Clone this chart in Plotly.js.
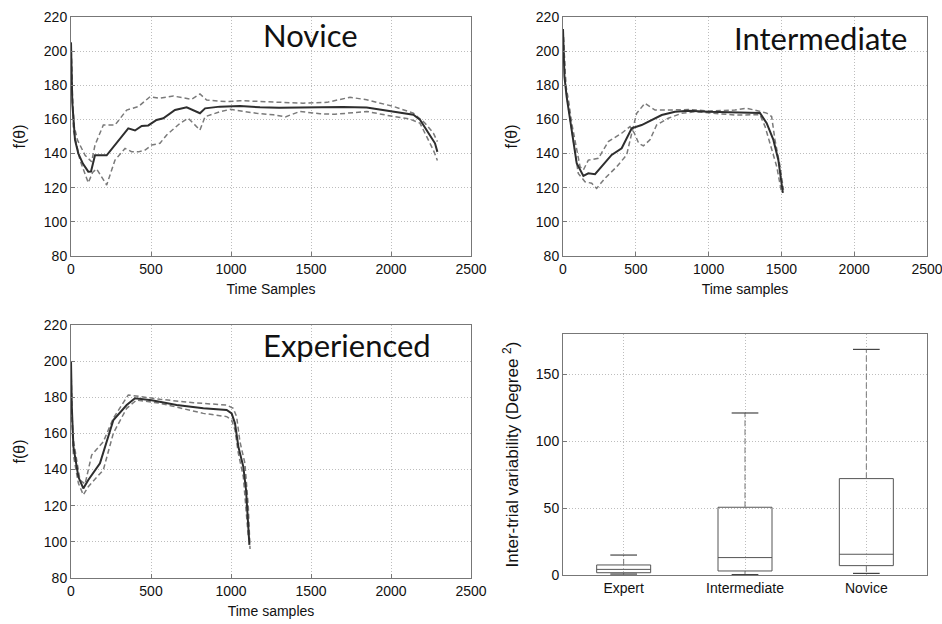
<!DOCTYPE html>
<html>
<head>
<meta charset="utf-8">
<script src="https://cdn.plot.ly/plotly-3.0.1.min.js"></script>
<style>html,body{margin:0;padding:0;background:#fff;}#chart{width:942px;height:624px;}</style>
</head>
<body>
<div id="chart"></div>
<script>
// ---------- Novice ----------
const noviceMeanX  = [0, 8, 25, 46, 75, 108, 125, 150, 223, 275, 358, 400, 442, 483, 535, 577, 650, 723, 765, 806, 838, 931, 1056, 1181, 1300, 1400, 1500, 1600, 1700, 1848, 2015, 2140, 2181, 2233, 2275, 2290];
const noviceMeanY  = [205, 170, 148, 140, 134, 129.4, 129.5, 139, 139, 145, 154.8, 153.5, 156.2, 156.5, 159.7, 160.7, 165.5, 167.1, 165.5, 163.6, 166.5, 167.5, 167.9, 167.1, 166.8, 167, 167, 167.2, 167.3, 167, 164.7, 162.7, 159.8, 152, 146, 141];
const noviceUpX    = [0, 8, 20, 40, 88, 129, 150, 202, 275, 348, 421, 494, 556, 640, 754, 806, 848, 973, 1056, 1200, 1350, 1450, 1600, 1744, 1848, 2015, 2140, 2213, 2265, 2290];
const noviceUpY    = [205, 175, 156, 148, 139, 135.2, 145, 156.7, 156.7, 165.5, 167.5, 173.3, 172.4, 173.7, 171.8, 174.9, 171.4, 170.4, 171, 170.5, 170, 169.5, 170, 173, 171.5, 167.6, 163.7, 157.8, 152, 147];
const noviceLoX    = [0, 8, 15, 56, 108, 135, 160, 223, 275, 338, 379, 421, 463, 504, 556, 598, 681, 733, 785, 806, 838, 931, 994, 1098, 1160, 1265, 1340, 1431, 1556, 1650, 1744, 1848, 2015, 2119, 2181, 2233, 2265, 2290];
const noviceLoY    = [205, 168, 153.8, 136.2, 122.9, 129, 131, 121.6, 136.2, 143, 141.1, 141, 142.1, 145, 146, 150.9, 157.7, 160.7, 155.7, 153.8, 161.6, 164.5, 165.9, 164.5, 163.6, 162.7, 161.5, 164.7, 163.3, 163, 163.7, 164.7, 161.7, 160.2, 157.8, 148, 142, 136];

// ---------- Intermediate ----------
const interMeanX = [0, 10, 25, 60, 94, 140, 174, 220, 266, 334, 403, 472, 540, 609, 678, 769, 861, 998, 1181, 1300, 1353, 1399, 1445, 1479, 1502, 1510];
const interMeanY = [213, 185, 173.3, 153.8, 134.3, 126.9, 128.4, 127.9, 132.3, 139.2, 143.1, 154.8, 156.7, 159.7, 162.6, 164.5, 165.1, 164.5, 164, 164, 163.7, 157.8, 148, 136.3, 120.7, 117];
const interAX    = [0, 20, 40, 60, 117, 140, 174, 243, 311, 403, 460, 490, 520, 552, 597, 643, 723, 815, 907, 1000, 1181, 1300, 1353, 1388, 1422, 1468, 1502];
const interAY    = [213, 180, 170, 157.7, 132.3, 130.4, 136.2, 137.2, 147, 151.9, 155.8, 152, 146, 144.5, 148, 156.7, 160.7, 163.6, 164.5, 164, 162.6, 162.7, 162.7, 155.8, 146, 132.4, 116.8];
const interBX    = [0, 20, 36, 71, 105, 151, 197, 231, 288, 369, 437, 472, 506, 563, 632, 723, 861, 1000, 1181, 1261, 1399, 1433, 1456, 1491, 1514];
const interBY    = [213, 178, 167.5, 148, 128.4, 123.5, 122.6, 119.6, 125.5, 132.3, 139.2, 151.9, 163.6, 169.5, 165.5, 165.5, 165.8, 165, 165.5, 166.6, 163.7, 161.7, 148, 132.4, 118.7];

// ---------- Experienced ----------
const expMeanX = [0, 5, 15, 46, 77, 108, 181, 265, 348, 400, 504, 660, 827, 973, 1004, 1025, 1046, 1077, 1094, 1108, 1115];
const expMeanY = [200, 175, 152.7, 136, 129.6, 134.2, 143.5, 167.4, 175.7, 179.5, 178.3, 175.7, 173.9, 173, 171.1, 165.6, 152.7, 141.6, 128.7, 104.7, 98.3];
const expUpX   = [0, 5, 15, 56, 88, 129, 202, 265, 358, 410, 556, 765, 973, 1014, 1035, 1056, 1087, 1108, 1119];
const expUpY   = [200, 172, 156.4, 134.2, 132, 148, 155.4, 168.5, 181.3, 180.7, 178.9, 177, 175.7, 173.9, 169.3, 155.4, 143.5, 119.5, 96];
const expLoX   = [0, 5, 15, 46, 77, 108, 202, 265, 348, 410, 556, 827, 973, 1004, 1025, 1046, 1077, 1098, 1108];
const expLoY   = [200, 170, 148, 132.5, 126, 130.5, 139.8, 160.2, 173.9, 178.5, 176.7, 171.1, 169.3, 167.4, 161.9, 149, 136, 112.1, 102.9];

// ---------- Box plot ----------
const boxCategories = ['Expert', 'Intermediate', 'Novice'];
const boxLower  = [0.7, 0.3, 1.2];
const boxQ1     = [1.7, 3, 7];
const boxMedian = [4.2, 13, 15.5];
const boxQ3     = [7.5, 50.6, 72];
const boxUpper  = [14.9, 121, 168.5];

const timeTicks = [0, 500, 1000, 1500, 2000, 2500];
const fTicks = [80, 100, 120, 140, 160, 180, 200, 220];
const boxTicks = [0, 50, 100, 150];

const meanLine = {color: '#2e2e2e', width: 2};
const dashLine = {color: '#7a7a7a', width: 1.5, dash: '5px,3px'};

function line(x, y, xa, ya, style) {
  return {type: 'scatter', mode: 'lines', x: x, y: y, xaxis: xa, yaxis: ya, line: style, hoverinfo: 'skip'};
}

const traces = [
  line(noviceUpX, noviceUpY, 'x', 'y', dashLine),
  line(noviceLoX, noviceLoY, 'x', 'y', dashLine),
  line(noviceMeanX, noviceMeanY, 'x', 'y', meanLine),
  line(interAX, interAY, 'x2', 'y2', dashLine),
  line(interBX, interBY, 'x2', 'y2', dashLine),
  line(interMeanX, interMeanY, 'x2', 'y2', meanLine),
  line(expUpX, expUpY, 'x3', 'y3', dashLine),
  line(expLoX, expLoY, 'x3', 'y3', dashLine),
  line(expMeanX, expMeanY, 'x3', 'y3', meanLine)
];

// box plot (numeric positions, labelled with categories)
const boxPos = boxCategories.map((c, i) => i);
const boxHalf = 0.2225;
const capHalf = 0.11;
traces.push({
  type: 'box', x: boxPos, q1: boxQ1, median: boxMedian, q3: boxQ3,
  lowerfence: boxQ1, upperfence: boxQ3,
  width: boxHalf * 2, whiskerwidth: 0,
  fillcolor: 'rgba(0,0,0,0)', line: {color: '#555', width: 1},
  xaxis: 'x4', yaxis: 'y4', hoverinfo: 'skip', boxpoints: false
});
const wx = [], wy = [], cx = [], cy = [];
boxPos.forEach((p, i) => {
  wx.push(p, p, null, p, p, null);
  wy.push(boxQ3[i], boxUpper[i], null, boxQ1[i], boxLower[i], null);
  cx.push(p - capHalf, p + capHalf, null, p - capHalf, p + capHalf, null);
  cy.push(boxUpper[i], boxUpper[i], null, boxLower[i], boxLower[i], null);
});
traces.push({type: 'scatter', mode: 'lines', x: wx, y: wy, xaxis: 'x4', yaxis: 'y4',
  line: {color: '#777', width: 1, dash: '6px,3px'}, hoverinfo: 'skip'});
traces.push({type: 'scatter', mode: 'lines', x: cx, y: cy, xaxis: 'x4', yaxis: 'y4',
  line: {color: '#444', width: 1.2}, hoverinfo: 'skip'});

const W = 942, H = 624;
function dx(a, b) { return [a / W, b / W]; }
function dy(top, bottom) { return [1 - bottom / H, 1 - top / H]; }

const FAM = 'Liberation Sans, Arial, sans-serif';
const tickFont = {family: FAM, size: 14, color: '#111'};
const titleFont = {family: FAM, size: 14, color: '#111'};
const yTitleFont = {family: FAM, size: 16, color: '#111'};

function axisBase(extra) {
  return Object.assign({
    showline: true, mirror: true, linecolor: '#777', linewidth: 1,
    showgrid: true, gridcolor: '#bdbdbd', griddash: '1px,2px', gridwidth: 1,
    zeroline: false, ticks: 'inside', ticklen: 4, tickcolor: '#777',
    tickfont: tickFont, automargin: false, fixedrange: true,
    ticklabeloverflow: 'allow'
  }, extra);
}

const xTime = (dom, anchor, title) => axisBase({
  domain: dom, anchor: anchor, range: [0, 2500], tickvals: timeTicks,
  title: {text: title, font: titleFont, standoff: 8}
});
const yF = (dom, anchor) => axisBase({
  domain: dom, anchor: anchor, range: [80, 220], tickvals: fTicks,
  title: {text: 'f(θ)', font: yTitleFont, standoff: 14}
});

const labelFont = {family: 'Lato, Open Sans, sans-serif', size: 31, color: '#111'};

const layout = {
  width: W, height: H,
  margin: {l: 0, r: 0, t: 0, b: 0},
  paper_bgcolor: '#fff', plot_bgcolor: '#fff',
  showlegend: false, hovermode: false,
  xaxis:  xTime(dx(71, 471), 'y', 'Time Samples'),
  yaxis:  yF(dy(17, 256), 'x'),
  xaxis2: xTime(dx(563, 927), 'y2', 'Time samples'),
  yaxis2: yF(dy(17, 256), 'x2'),
  xaxis3: xTime(dx(71, 471), 'y3', 'Time samples'),
  yaxis3: yF(dy(325, 578), 'x3'),
  xaxis4: axisBase({domain: dx(563, 927), anchor: 'y4', range: [-0.5, 2.5],
    tickvals: boxPos, ticktext: boxCategories, ticks: ''}),
  yaxis4: axisBase({domain: dy(334, 575), anchor: 'x4', range: [0, 180],
    tickvals: boxTicks,
    title: {text: 'Inter-trial variability (Degree <sup>2</sup>)', font: {family: FAM, size: 17, color: '#111'}, standoff: 12}}),
  annotations: [
    {text: 'Novice', xref: 'paper', yref: 'paper', x: 310 / W, y: 1 - 35 / H,
     xanchor: 'center', yanchor: 'middle', showarrow: false, font: labelFont},
    {text: 'Intermediate', xref: 'paper', yref: 'paper', x: 821 / W, y: 1 - 38 / H,
     xanchor: 'center', yanchor: 'middle', showarrow: false, font: labelFont},
    {text: 'Experienced', xref: 'paper', yref: 'paper', x: 347 / W, y: 1 - 345 / H,
     xanchor: 'center', yanchor: 'middle', showarrow: false, font: labelFont}
  ]
};

Plotly.newPlot('chart', traces, layout, {staticPlot: true, displayModeBar: false});
</script>
</body>
</html>
